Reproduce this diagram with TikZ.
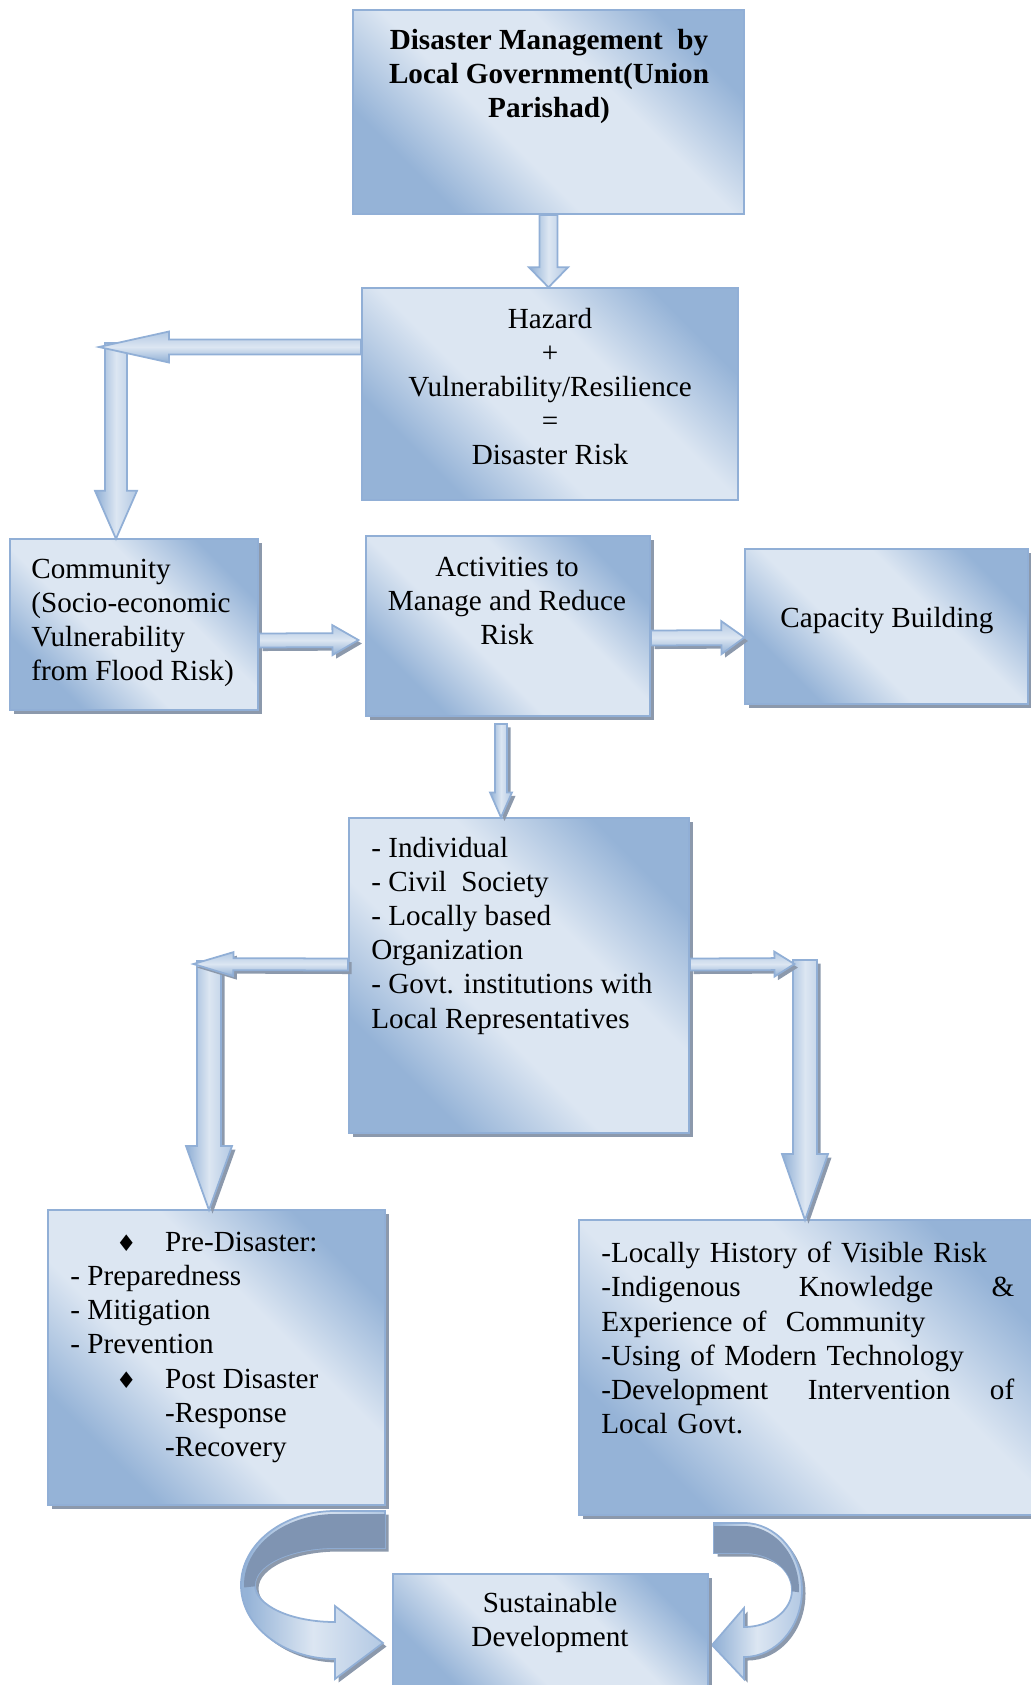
\documentclass[tikz,border=0pt]{standalone}
\usepackage{fontspec}
\setmainfont{Liberation Serif}
\newfontfamily\symfont{DejaVu Sans}
\usetikzlibrary{calc,fit,shadows}

\definecolor{bxdark}{RGB}{149,179,215}
\definecolor{bxmid}{RGB}{178,200,227}
\definecolor{bxlight}{RGB}{220,230,242}
\definecolor{bxline}{RGB}{145,175,214}
\definecolor{shgray}{RGB}{140,153,172}
\definecolor{rbdark}{RGB}{127,148,178}

\pgfdeclarehorizontalshading{boxshade}{100bp}{color(0bp)=(bxdark); color(27bp)=(bxdark); color(42bp)=(bxlight); color(60bp)=(bxlight); color(75bp)=(bxdark); color(100bp)=(bxdark)}
\pgfdeclarehorizontalshading{arrshade}{100bp}{color(0bp)=(bxdark); color(27bp)=(bxdark); color(50bp)=(bxlight); color(75bp)=(bxmid); color(100bp)=(bxmid)}

% block arrow: [style]{from}{to}{shaft}{head width}{head length}
\newcommand\barrow[6][]{%
  \path let \p1=#2, \p2=#3, \n1={atan2(\y2-\y1,\x2-\x1)}, \n2={veclen(\x2-\x1,\y2-\y1)/0.5669291} in
    \pgfextra{\pgfmathsetmacro\baa{\n1}\pgfmathsetmacro\bal{\n2}\xdef\baang{\baa}\xdef\balen{\bal}};
  \begin{scope}[shift={#2}, rotate=\baang]
    \path[#1] (0,-#4/2) -- (\balen-#6,-#4/2) -- (\balen-#6,-#5/2) -- (\balen,0)
      -- (\balen-#6,#5/2) -- (\balen-#6,#4/2) -- (0,#4/2) -- cycle;
  \end{scope}}
\newcommand\dia{\makebox[28pt][l]{\symfont\fontsize{13}{13}\selectfont ♦}}

\begin{document}
\begin{tikzpicture}[x=0.02cm, y=-0.02cm, every node/.style={font=\fontsize{16.6}{19.4}\selectfont},
  box/.style={draw=bxline, line width=1.1pt, shade, shading=boxshade, shading angle=45, inner sep=0pt},
  shbox/.style={box, drop shadow={shadow xshift=2.2pt, shadow yshift=-2.2pt, fill=shgray, opacity=1}},
  txt/.style={inner sep=0pt},
  blk/.style={draw=bxline, line width=1pt, shade, shading=arrshade},
  blkv/.style={blk, shading angle=0},
  blkh/.style={blk, shading angle=90},
  shd/.style={preaction={fill=shgray, transform canvas={shift={(2pt,-2pt)}}}}]
\useasboundingbox (0,0) rectangle (1031,1685);

% turning ribbons to the last box
\coordinate (lturn) at (335,1585);
\coordinate (rturn) at (744,1590);
\begin{scope}[shift={(lturn)}]
  \path[blkv,shd] (50,-74) -- (0,-74) arc[start angle=270, end angle=90, x radius=94, y radius=74]
    -- (0,94) -- (48,58) -- (0,21) -- (0,37) arc[start angle=90, end angle=270, x radius=80, y radius=37]
    -- (50,-37) -- cycle;
  \fill[rbdark] (50,-71) -- (0,-71) arc[start angle=270, end angle=178, x radius=91, y radius=71]
    -- (178:80 and 37) arc[start angle=178, end angle=270, x radius=80, y radius=37] -- (50,-37) -- cycle;
\end{scope}
\begin{scope}[shift={(rturn)}]
  \path[blkv,shd] (-30,-67) -- (0,-67) arc[start angle=270, end angle=450, x radius=58, y radius=67]
    -- (0,89) -- (-32,55) -- (0,18) -- (0,37) arc[start angle=90, end angle=-90, x radius=48, y radius=37]
    -- (-30,-37) -- cycle;
  \fill[rbdark] (-30,-64) -- (0,-64) arc[start angle=270, end angle=362, x radius=55, y radius=64]
    -- (362:48 and 37) arc[start angle=362, end angle=270, x radius=48, y radius=37] -- (-30,-37) -- cycle;
\end{scope}

% boxes
\node[box, fit={(353,10) (744,214)}] (top) {};
\node[box, fit={(362,288) (738,500)}] (haz) {};
\node[shbox, fit={(10,539) (258,710)}] (comm) {};
\node[shbox, fit={(366,536) (650,716)}] (act) {};
\node[shbox, fit={(745,549) (1028,704)}] (cap) {};
\node[shbox, fit={(349,818) (689,1133)}] (ind) {};
\node[shbox, fit={(48,1210) (385,1505)}] (pre) {};
\node[shbox, fit={(579,1220) (1040,1515)}] (loc) {};
\node[shbox, fit={(393,1574) (708,1700)}] (sus) {};

% texts
\node[txt, anchor=north, align=center, font=\fontsize{16.6}{19.4}\selectfont\bfseries] (topT) at (549,29)
  {Disaster Management~ by\\Local Government(Union\\Parishad)};
\node[txt, anchor=north, align=center] (hazT) at (550,308) {Hazard\\+\\Vulnerability/Resilience\\=\\Disaster Risk};
\node[txt, anchor=north west, align=left] (commT) at (31,559) {Community\\(Socio-economic\\Vulnerability\\from Flood Risk)};
\node[txt, anchor=north, align=center] (actT) at (507,557) {Activities to\\Manage and Reduce\\Risk};
\node[txt, anchor=north, align=center] (capT) at (887,607) {Capacity Building};
\node[txt, anchor=north west, align=left] (indT) at (371,837)
  {- Individual\\- Civil~ Society\\- Locally based\\Organization\\- Govt. institutions with\\Local Representatives};
\node[txt, anchor=north west, align=left] (preT) at (70,1232)
  {\hspace*{26pt}\dia Pre-Disaster:\\- Preparedness\\- Mitigation\\- Prevention\\
   \hspace*{26pt}\dia Post Disaster\\ \hspace*{54pt}-Response\\ \hspace*{54pt}-Recovery};
\node[txt, anchor=north west, text width=235pt, align=left] (locT) at (601,1242)
  {-Locally History of Visible Risk\\\makebox[235pt][s]{-Indigenous\hfill Knowledge\hfill\&}\\Experience of~ Community\\
   -Using of Modern Technology\\\makebox[235pt][s]{-Development\hfill Intervention\hfill of}\\Local Govt.};
\node[txt, anchor=north, align=center] (susT) at (550,1592) {Sustainable\\Development};

% block arrows
\coordinate (hzTip) at (100,347);
\coordinate (hzTurn) at (116,343);
\coordinate (indL) at (194,964);
\coordinate (indLturn) at (209,961);
\coordinate (indR) at (794,964);
\coordinate (indRturn) at (805,960);
\barrow[blkv]{(top.south)}{(top.south |- haz.north)}{18}{39}{20}
\barrow[blkv]{(hzTurn)}{(hzTurn |- comm.north)}{22}{42}{48}
\barrow[blkh]{($(haz.west)+(0,-47)$)}{(hzTip)}{15}{31}{70}
\barrow[blkh,shd]{($(comm.east)+(0,16)$)}{($(act.west)+(-7,14)$)}{14}{30}{26}
\barrow[blkh,shd]{($(act.east)+(0,12)$)}{($(cap.west)+(0,11)$)}{15}{33}{23}
\barrow[blkv,shd]{($(act.south)+(-7,7)$)}{($(ind.north)+(-18,0)$)}{12}{22}{25}
\barrow[blkv,shd]{(indLturn)}{(indLturn |- pre.north)}{24}{46}{64}
\barrow[blkh,shd]{($(ind.west)+(0,-11)$)}{(indL)}{12}{24}{40}
\barrow[blkv,shd]{(indRturn)}{(indRturn |- loc.north)}{24}{46}{66}
\barrow[blkh,shd]{($(ind.east)+(0,-11)$)}{(indR)}{12}{25}{20}
\end{tikzpicture}
\end{document}
